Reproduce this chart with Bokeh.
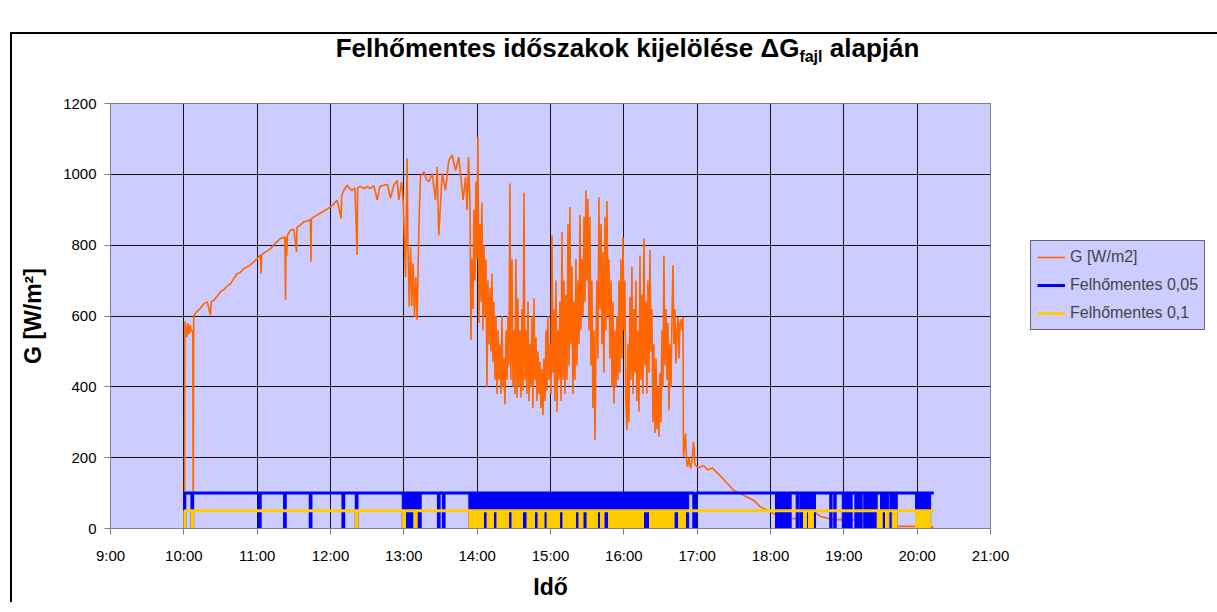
from bokeh.plotting import figure
from bokeh.models import FixedTicker, Legend, LegendItem, Div
from bokeh.layouts import column
from bokeh.embed import file_html
from bokeh.resources import INLINE

# ---------------- data ----------------
# x axis: minutes after midnight
hour_ticks = [540, 600, 660, 720, 780, 840, 900, 960, 1020, 1080, 1140, 1200, 1260]
hour_labels = ["9:00", "10:00", "11:00", "12:00", "13:00", "14:00", "15:00",
               "16:00", "17:00", "18:00", "19:00", "20:00", "21:00"]
g_ticks = [0, 200, 400, 600, 800, 1000, 1200]

title_main = "Felhőmentes időszakok kijelölése ΔG"
title_sub = "fajl"
title_end = " alapján"

# G [W/m2] measured irradiance (time in minutes after midnight)
g_time = [
    600.6, 600.9, 601.6, 602.4, 603.3, 604.2, 605.2, 606.2, 607.3, 607.7, 608.1, 609.5,
    611.5, 613.6, 616.4, 619.1, 621.8, 622.4, 624.5, 627.0, 630.0, 633.0, 636.5, 638.2,
    640.8, 643.6, 646.0, 649.1, 653.0, 657.3, 660.0, 662.7, 663.2, 663.7, 667.0, 670.9,
    675.0, 679.1, 682.7, 683.2, 683.6, 684.2, 684.7, 687.3, 690.0, 692.2, 692.6, 695.0,
    698.2, 701.0, 703.6, 704.0, 704.4, 706.5, 709.1, 714.0, 720.0, 722.5, 725.5, 728.7,
    729.1, 730.9, 733.6, 735.5, 737.7, 740.0, 741.8, 742.2, 744.5, 747.3, 750.0, 752.7,
    755.5, 758.2, 760.5, 763.6, 766.5, 769.1, 771.8, 774.5, 775.9, 778.1, 779.5, 781.4,
    782.7, 783.3, 784.4, 785.5, 786.5, 787.6, 788.7, 789.8, 790.9, 792.3, 793.6, 796.4,
    798.5, 800.5, 803.2, 805.9, 807.3, 808.6, 811.4, 814.1, 816.8, 819.5, 822.3, 825.0,
    828.5, 830.5, 831.8, 832.9,
    834.1, 834.9, 835.7, 836.6, 837.4, 838.2, 839.0, 839.8, 840.6, 841.5, 842.3,
    843.1, 843.9, 844.7, 845.6, 846.4, 847.2, 848.0, 848.8, 849.6, 850.5, 851.3,
    852.1, 852.9, 853.7, 854.6, 855.4, 856.2, 857.0, 857.8, 858.6, 859.5, 860.3,
    861.1, 861.9, 862.7, 863.6, 864.4, 865.2, 866.0, 866.8, 867.6, 868.5, 869.3,
    870.1, 870.9, 871.7, 872.6, 873.4, 874.2, 875.0, 875.8, 876.6, 877.5, 878.3,
    879.1, 879.9, 880.7, 881.6, 882.4, 883.2, 884.0, 884.8, 885.6, 886.5, 887.3,
    888.1, 888.9, 889.7, 890.6, 891.4, 892.2, 893.0, 893.8, 894.6, 895.5, 896.3,
    897.1, 897.9, 898.7, 899.6, 900.4, 901.2, 902.0, 902.8, 903.6, 904.5, 905.3,
    906.1, 906.9, 907.7, 908.6, 909.4, 910.2, 911.0, 911.8, 912.6, 913.5, 914.3,
    915.1, 915.9, 916.7, 917.6, 918.4, 919.2, 920.0, 920.8, 921.6, 922.5, 923.3,
    924.1, 924.9, 925.7, 926.6, 927.4, 928.2, 929.0, 929.8, 930.6, 931.5, 932.3,
    933.1, 933.9, 934.7, 935.6, 936.4, 937.2, 938.0, 938.8, 939.6, 940.5, 941.3,
    942.1, 942.9, 943.7, 944.6, 945.4, 946.2, 947.0, 947.8, 948.6, 949.5, 950.3,
    951.1, 951.9, 952.7, 953.6, 954.4, 955.2, 956.0, 956.8, 957.6, 958.5, 959.3,
    960.1, 960.9, 961.7, 962.6, 963.4, 964.2, 965.0, 965.8, 966.6, 967.5, 968.3,
    969.1, 969.9, 970.7, 971.6, 972.4, 973.2, 974.0, 974.8, 975.6, 976.5, 977.3,
    978.1, 978.9, 979.7, 980.6, 981.4, 982.2, 983.0, 983.8, 984.6, 985.5, 986.3,
    987.1, 987.9, 988.7, 989.6, 990.4, 991.2, 992.0, 992.8, 993.6, 994.5, 995.3,
    996.1, 996.9, 997.7, 998.6, 999.4, 1000.2, 1001.0, 1001.8, 1002.6, 1003.5, 1004.3,
    1005.1, 1005.9, 1006.7, 1007.6, 1008.4,
    1008.8, 1009.7, 1010.5, 1011.3, 1012.1, 1013.3, 1014.6, 1015.8, 1017.0, 1018.2,
    1019.5, 1021.1, 1022.8, 1025.2, 1028.5, 1032.6, 1035.0, 1040.8, 1049.8, 1057.9,
    1066.1, 1071.8, 1077.6, 1082.5, 1090.7, 1098.8, 1110.3, 1116.8, 1120.9, 1131.6,
    1143.0, 1153.7, 1161.9, 1170.0, 1186.4, 1197.0, 1213.4,
]
g_value = [
    0, 585, 568, 540, 580, 548, 575, 555, 560, 0, 600, 607,
    615, 622, 635, 640, 602, 641, 644, 655, 668, 676, 687, 691,
    705, 720, 722, 734, 741, 753, 762, 772, 720, 774, 781, 790,
    806, 819, 823, 645, 822, 770, 828, 842, 845, 781, 850, 856,
    866, 868, 872, 753, 875, 880, 885, 895, 908, 916, 927, 875,
    940, 955, 969, 960, 955, 962, 772, 962, 966, 960, 965, 960,
    968, 927, 966, 969, 972, 932, 969, 983, 927, 979, 922, 710,
    1045, 814, 626, 795, 628, 748, 597, 710, 588, 847, 993, 1007,
    985, 979, 1002, 927, 1021, 828, 1002, 955, 1040, 1054, 1011, 1049,
    927, 993, 899, 1049,
    930, 532, 760, 620, 900, 700, 980, 760, 1106, 580, 860,
    640, 920, 560, 800, 600, 760, 400, 700, 520, 680, 500,
    720, 470, 640, 420, 600, 380, 560, 420, 520, 380, 600,
    400, 480, 350, 560, 420, 600, 460, 974, 420, 760, 400,
    560, 380, 760, 370, 650, 400, 560, 370, 620, 390, 948,
    420, 560, 380, 640, 360, 520, 400, 600, 340, 650, 420,
    540, 360, 500, 380, 470, 340, 450, 320, 480, 360, 560,
    390, 600, 420, 520, 380, 828, 440, 620, 360, 700, 330,
    560, 420, 640, 360, 837, 420, 700, 380, 660, 420, 860,
    460, 908, 520, 740, 380, 640, 420, 760, 460, 700, 520,
    885, 560, 760, 600, 880, 640, 955, 700, 930, 560, 880,
    460, 700, 340, 560, 249, 520, 700, 480, 936, 620, 860,
    520, 780, 440, 880, 560, 925, 600, 760, 480, 700, 400,
    640, 353, 560, 400, 600, 420, 700, 440, 760, 480, 823,
    560, 700, 360, 278, 520, 300, 654, 420, 739, 380, 620,
    440, 700, 360, 560, 330, 771, 420, 660, 380, 819, 460,
    640, 381, 700, 440, 786, 500, 620, 300, 520, 270, 480,
    280, 400, 259, 440, 300, 560, 400, 771, 460, 620, 420,
    580, 334, 520, 400, 600, 743, 520, 620, 466, 560, 597,
    480, 580, 590, 560, 597,
    202, 240, 268, 190, 174, 200, 170, 190, 245, 180,
    176, 172, 174, 178, 166, 171, 162, 142, 108, 94,
    80, 61, 51, 42, 31, 28, 31, 44, 34, 25,
    25, 23, 15, 7, 6, 6, 4,
]

# clear-sky flags: first / last record, flag levels
flag_span = [600.8, 1213.6]
blue_level = 100      # Felhőmentes 0,05
yellow_level = 50     # Felhőmentes 0,1

# short isolated "not clear" intervals (flag = 0)
blue_off_start = [606.6, 661.9, 682.4, 703.4, 730.2, 741.1, 808.3, 812.3, 1017.2]
blue_off_end = [607.2, 662.5, 683.0, 704.0, 730.8, 741.7, 808.9, 812.9, 1018.8]
# periods with very frequent switching (drawn as filled bands)
blue_dense_start = [778.7, 833.2, 1084.1, 1101.0, 1104.0, 1128.5, 1131.8, 1138.7,
                    1149.0, 1156.3, 1170.0, 1177.8, 1198.7]
blue_dense_end = [794.2, 1013.1, 1096.9, 1103.1, 1116.8, 1130.4, 1133.7, 1146.8,
                  1155.0, 1167.3, 1176.8, 1183.7, 1211.0]

yellow_off_start = [606.6, 741.1]
yellow_off_end = [607.2, 741.7]
yellow_dense_start = [778.7, 788.2, 833.2, 848.1, 856.2, 868.5, 880.8, 889.8, 897.2,
                      910.2, 923.3, 929.9, 940.9, 947.5, 981.0, 1004.8, 1107.0,
                      1111.1, 1167.3, 1174.1, 1179.6, 1198.7]
yellow_dense_end = [781.4, 790.9, 845.2, 853.4, 865.7, 877.1, 886.9, 894.7, 907.4,
                    920.5, 926.6, 938.5, 943.8, 976.1, 1001.1, 1010.5, 1109.5,
                    1115.1, 1171.4, 1176.6, 1183.7, 1211.0]


def step_series(span, level, off_s, off_e):
    xs = [span[0], span[0]]
    ys = [0, level]
    for a, b in zip(off_s, off_e):
        xs += [a, a, b, b]
        ys += [level, 0, 0, level]
    xs.append(span[1])
    ys.append(level)
    return xs, ys


FONT = "Liberation Sans"
ORANGE = "#FF6600"
BLUE = "#0000FF"
YELLOW = "#FFCC00"
LAV = "#CCCCFF"
CANVAS_W = 1203
TITLE_H = 36

p = figure(frame_width=880, frame_height=425,
           x_range=(540, 1260), y_range=(0, 1200),
           output_backend="svg", toolbar_location=None,
           min_border_left=98, min_border_right=CANVAS_W - 98 - 880,
           min_border_top=33, min_border_bottom=74,
           background_fill_color=LAV, border_fill_color="white")
p.outline_line_color = "#808080"
p.outline_line_width = 1

# axes
p.xaxis.ticker = FixedTicker(ticks=hour_ticks)
p.xaxis.major_label_overrides = {t: l for t, l in zip(hour_ticks, hour_labels)}
p.yaxis.ticker = FixedTicker(ticks=g_ticks)
p.xgrid.ticker = FixedTicker(ticks=hour_ticks)
p.ygrid.ticker = FixedTicker(ticks=g_ticks)
for g in (p.xgrid, p.ygrid):
    g.grid_line_color = "#000000"
    g.grid_line_width = 1
    g.grid_line_alpha = 0.9
for ax in (p.xaxis, p.yaxis):
    ax.axis_line_color = "#808080"
    ax.axis_line_width = 1
    ax.major_tick_line_color = "#808080"
    ax.major_tick_in = 0
    ax.major_tick_out = 6
    ax.minor_tick_line_color = None
    ax.major_label_text_font = FONT
    ax.major_label_text_font_size = "15px"
    ax.major_label_text_color = "#000000"
    ax.axis_label_text_font = FONT
    ax.axis_label_text_font_style = "bold"
    ax.axis_label_text_font_size = "23px"
    ax.axis_label_text_color = "#000000"
p.xaxis.axis_label = "Idő"
p.yaxis.axis_label = "G [W/m²]"
p.xaxis.major_label_standoff = 12
p.xaxis.axis_label_standoff = 7
p.yaxis.major_label_standoff = 8
p.yaxis.axis_label_standoff = 14

# series
g_r = p.line(g_time, g_value, line_color=ORANGE, line_width=1.6)

p.quad(left=blue_dense_start, right=blue_dense_end, bottom=0, top=blue_level,
       fill_color=BLUE, line_color=BLUE, line_width=1)
bx, by = step_series(flag_span, blue_level, blue_off_start, blue_off_end)
b_r = p.line(bx, by, line_color=BLUE, line_width=3)

p.quad(left=yellow_dense_start, right=yellow_dense_end, bottom=0, top=yellow_level,
       fill_color=YELLOW, line_color=YELLOW, line_width=1)
yx, yy = step_series(flag_span, yellow_level, yellow_off_start, yellow_off_end)
y_r = p.line(yx, yy, line_color=YELLOW, line_width=3)

legend = Legend(items=[LegendItem(label="G [W/m2]", renderers=[g_r]),
                       LegendItem(label="Felhőmentes 0,05", renderers=[b_r]),
                       LegendItem(label="Felhőmentes 0,1", renderers=[y_r])],
                location=(40, 198))
legend.border_line_color = "#000000"
legend.border_line_width = 1
legend.background_fill_color = LAV
legend.background_fill_alpha = 1
legend.label_text_font = FONT
legend.label_text_font_size = "16px"
legend.glyph_width = 28
legend.glyph_height = 20
legend.label_height = 20
legend.spacing = 8
legend.padding = 6
legend.margin = 0
legend.label_standoff = 5
p.add_layout(legend, "right")

# title (HTML so that the subscript stays real text)
title_html = (
    '<div style="font-family:\'Liberation Sans\',Arial,sans-serif;font-weight:bold;'
    'font-size:26px;line-height:30px;text-align:center;white-space:nowrap;'
    f'width:{CANVAS_W}px;box-sizing:border-box;padding-left:28px;margin-top:-1px;color:#000;">'
    f'{title_main}<span style="font-size:16px;position:relative;top:5px;">{title_sub}</span>'
    f'{title_end}</div>'
)
title_div = Div(text=title_html, width=CANVAS_W, height=TITLE_H)
title_div.margin = (0, 0, 0, 0)

layout = column(title_div, p, spacing=0)
layout.margin = (32, 0, 0, 10)
layout.styles = {"border-left": "2px solid #000000", "border-top": "2px solid #000000",
                 "background-color": "#ffffff"}

open("out.html", "w").write(file_html(layout, INLINE))
